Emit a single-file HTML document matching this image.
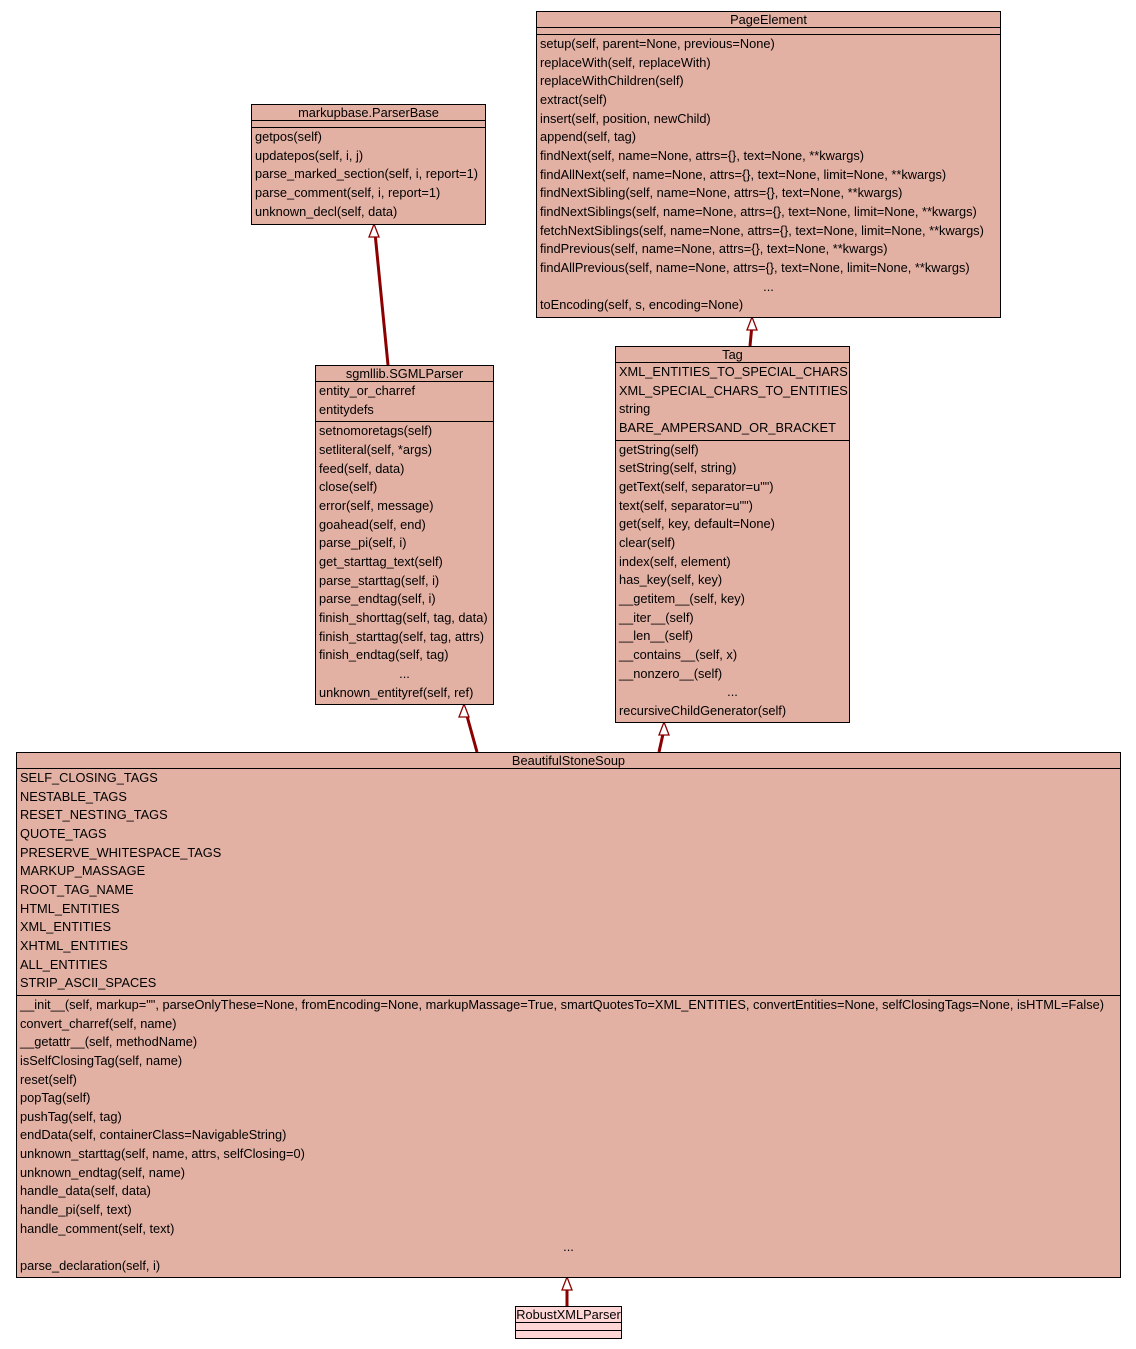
<!DOCTYPE html>
<html><head><meta charset="utf-8"><style>
body{margin:0;width:1136px;height:1349px;background:#fff;position:relative;font-family:"Liberation Sans",Arial,sans-serif;font-size:12.8px;color:#000;overflow:hidden}
.b{position:absolute;border:1px solid #000;background:#e3b1a4;box-sizing:border-box}
.t{height:15px;line-height:15px;text-align:center;border-bottom:1px solid #000;white-space:nowrap}
.s{border-bottom:1px solid #000;padding:0 3px 2px 3px;line-height:18.65px;white-space:nowrap}
.s:last-child{border-bottom:none}
.e{height:6px;padding:0}
.c{text-align:center}
svg{position:absolute;left:0;top:0}
</style></head><body>
<svg width="1136" height="1349">
<g stroke="#8b0000" stroke-width="3" fill="none">
<line x1="388" y1="365" x2="375.3" y2="236"/>
<line x1="750" y1="346" x2="751.6" y2="329"/>
<line x1="477" y1="752" x2="467" y2="716"/>
<line x1="659" y1="752" x2="663" y2="734"/>
<line x1="567" y1="1306" x2="567" y2="1289"/>
</g>
<g fill="#fff" stroke="#8b0000" stroke-width="1.3">
<path d="M374 224 L379 237 L369 237 Z"/>
<path d="M752 317 L757 330 L747 330 Z"/>
<path d="M464 704 L469 717 L459 717 Z"/>
<path d="M664 722 L669 735 L659 735 Z"/>
<path d="M567 1277 L572 1290 L562 1290 Z"/>
</g>
</svg>

<div class="b" style="left:536px;top:11px;width:465px;height:307px">
<div class="t">PageElement</div><div class="s e"></div>
<div class="s" style="padding-top:0">setup(self, parent=None, previous=None)<br>replaceWith(self, replaceWith)<br>replaceWithChildren(self)<br>extract(self)<br>insert(self, position, newChild)<br>append(self, tag)<br>findNext(self, name=None, attrs={}, text=None, **kwargs)<br>findAllNext(self, name=None, attrs={}, text=None, limit=None, **kwargs)<br>findNextSibling(self, name=None, attrs={}, text=None, **kwargs)<br>findNextSiblings(self, name=None, attrs={}, text=None, limit=None, **kwargs)<br>fetchNextSiblings(self, name=None, attrs={}, text=None, limit=None, **kwargs)<br>findPrevious(self, name=None, attrs={}, text=None, **kwargs)<br>findAllPrevious(self, name=None, attrs={}, text=None, limit=None, **kwargs)<br><div class="c">...</div>toEncoding(self, s, encoding=None)</div>
</div>

<div class="b" style="left:251px;top:104px;width:235px;height:121px">
<div class="t">markupbase.ParserBase</div><div class="s e"></div>
<div class="s">getpos(self)<br>updatepos(self, i, j)<br>parse_marked_section(self, i, report=1)<br>parse_comment(self, i, report=1)<br>unknown_decl(self, data)</div>
</div>

<div class="b" style="left:315px;top:365px;width:179px;height:340px">
<div class="t">sgmllib.SGMLParser</div>
<div class="s" style="padding-bottom:2px">entity_or_charref<br>entitydefs</div>
<div class="s">setnomoretags(self)<br>setliteral(self, *args)<br>feed(self, data)<br>close(self)<br>error(self, message)<br>goahead(self, end)<br>parse_pi(self, i)<br>get_starttag_text(self)<br>parse_starttag(self, i)<br>parse_endtag(self, i)<br>finish_shorttag(self, tag, data)<br>finish_starttag(self, tag, attrs)<br>finish_endtag(self, tag)<br><div class="c">...</div>unknown_entityref(self, ref)</div>
</div>

<div class="b" style="left:615px;top:346px;width:235px;height:377px">
<div class="t">Tag</div>
<div class="s" style="padding-bottom:2px">XML_ENTITIES_TO_SPECIAL_CHARS<br>XML_SPECIAL_CHARS_TO_ENTITIES<br>string<br>BARE_AMPERSAND_OR_BRACKET</div>
<div class="s">getString(self)<br>setString(self, string)<br>getText(self, separator=u"")<br>text(self, separator=u"")<br>get(self, key, default=None)<br>clear(self)<br>index(self, element)<br>has_key(self, key)<br>__getitem__(self, key)<br>__iter__(self)<br>__len__(self)<br>__contains__(self, x)<br>__nonzero__(self)<br><div class="c">...</div>recursiveChildGenerator(self)</div>
</div>

<div class="b" style="left:16px;top:752px;width:1105px;height:526px">
<div class="t">BeautifulStoneSoup</div>
<div class="s" style="padding-bottom:2px">SELF_CLOSING_TAGS<br>NESTABLE_TAGS<br>RESET_NESTING_TAGS<br>QUOTE_TAGS<br>PRESERVE_WHITESPACE_TAGS<br>MARKUP_MASSAGE<br>ROOT_TAG_NAME<br>HTML_ENTITIES<br>XML_ENTITIES<br>XHTML_ENTITIES<br>ALL_ENTITIES<br>STRIP_ASCII_SPACES</div>
<div class="s">__init__(self, markup="", parseOnlyThese=None, fromEncoding=None, markupMassage=True, smartQuotesTo=XML_ENTITIES, convertEntities=None, selfClosingTags=None, isHTML=False)<br>convert_charref(self, name)<br>__getattr__(self, methodName)<br>isSelfClosingTag(self, name)<br>reset(self)<br>popTag(self)<br>pushTag(self, tag)<br>endData(self, containerClass=NavigableString)<br>unknown_starttag(self, name, attrs, selfClosing=0)<br>unknown_endtag(self, name)<br>handle_data(self, data)<br>handle_pi(self, text)<br>handle_comment(self, text)<div class="c">...</div>parse_declaration(self, i)</div>
</div>

<div class="b" style="left:515px;top:1306px;width:107px;height:33px;background:#ffd6d6">
<div class="t">RobustXMLParser</div>
<div class="s e" style="height:7px"></div>
<div class="s e"></div>
</div>
</body></html>
